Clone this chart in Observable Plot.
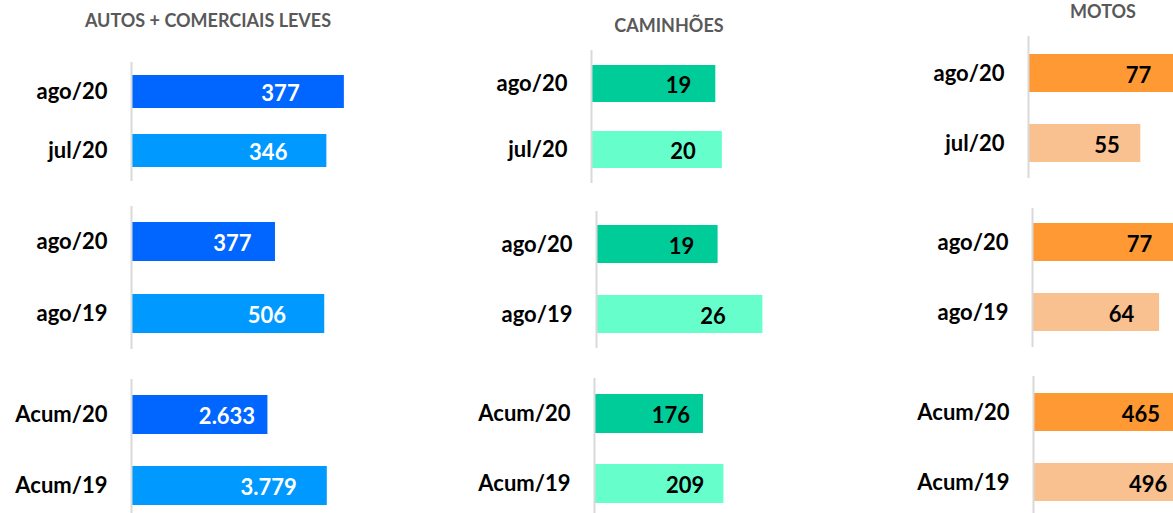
<!DOCTYPE html>
<html>
<head>
<meta charset="utf-8">
<script src="https://cdn.jsdelivr.net/npm/d3@7"></script>
<script src="https://cdn.jsdelivr.net/npm/@observablehq/plot@0.6"></script>
<style>
  html, body { margin: 0; padding: 0; background: #fff; overflow: hidden; }
  #chart { position: relative; width: 1173px; height: 513px; font-family: Lato, "Open Sans", sans-serif; }
  .panel { position: absolute; }
  .title { position: absolute; transform: translateX(-50%); white-space: nowrap;
           font: 700 18px/1 Lato, "Open Sans", sans-serif; color: #595959; }
</style>
</head>
<body>
<div id="chart"></div>
<script>
// ---- data ----
const titles = ["AUTOS + COMERCIAIS LEVES", "CAMINHÕES", "MOTOS"];
const categories = [["ago/20", "jul/20"], ["ago/20", "ago/19"], ["Acum/20", "Acum/19"]];
const autos = [[377, 346], [377, 506], [2633, 3779]];
const caminhoes = [[19, 20], [19, 26], [176, 209]];
const motos = [[77, 55], [77, 64], [465, 496]];
const series = [autos, caminhoes, motos];

// ---- styling / layout ----
const colors = [["#0066FF", "#0099FF"], ["#00CC99", "#66FFCC"], ["#FF9933", "#F9C090"]];
const valueFill = ["#ffffff", "#000000", "#000000"];
const colLeft = [0, 460, 900];
const colRight = [380, 820, 1173];
const titleX = [208, 669, 1103];
const titleTop = [11, 16, 2];
// per panel: axis x, axis top, axis bottom, first bar top, second bar top, bar height, x-domain max at right edge
const layout = [
  [[131, 62, 181, 75, 134, 33, 441], [131, 206, 349, 222, 294, 39, 652], [131, 379, 513, 395, 466, 38.5, 4806]],
  [[591, 50, 183, 65, 131, 36.5, 35], [596, 211, 348, 225, 295, 38, 35], [594, 378, 513, 394, 464, 39, 365]],
  [[1028, 36, 178, 53, 124, 39, 71], [1032, 208, 347, 223, 293, 38, 71], [1033, 376, 513, 392, 463, 39, 424]]
];

const fmt = d3.formatLocale({decimal: ",", thousands: ".", grouping: [3], currency: ["R$", ""]}).format(",d");
const chart = document.getElementById("chart");

titles.forEach((t, c) => {
  const div = document.createElement("div");
  div.className = "title";
  div.textContent = t;
  div.style.left = titleX[c] + "px";
  div.style.top = titleTop[c] + "px";
  chart.appendChild(div);
});

for (let c = 0; c < 3; c++) {
  for (let r = 0; r < 3; r++) {
    const [ax, top, bottom, b1, b2, h, xmax] = layout[c][r];
    const cats = categories[r];
    const data = cats.map((cat, i) => ({cat, value: series[c][r][i]}));
    const s = b2 - b1;
    const plot = Plot.plot({
      width: colRight[c] - colLeft[c],
      height: bottom - top,
      marginLeft: ax - colLeft[c],
      marginRight: 0,
      marginTop: 0,
      marginBottom: 0,
      style: {fontFamily: "Lato, 'Open Sans', sans-serif", background: "transparent", overflow: "visible"},
      x: {domain: [0, xmax], axis: null, clamp: true},
      y: {domain: cats, range: [b1 - top, b2 + h - top], paddingInner: 1 - h / s, paddingOuter: 0, axis: null},
      color: {domain: cats, range: colors[c]},
      marks: [
        Plot.barX(data, {x: "value", y: "cat", fill: "cat"}),
        Plot.ruleX([0], {stroke: "#d9d9d9", strokeWidth: 2}),
        Plot.text(data, {y: "cat", text: "cat", frameAnchor: "left", textAnchor: "end", dx: -24,
                         fontSize: 22, fontWeight: "bold", fill: "#000"}),
        Plot.text(data, {x: d => d.value * 0.7, y: "cat", text: d => fmt(d.value),
                         fontSize: 22, fontWeight: "bold", fill: valueFill[c], dy: 2})
      ]
    });
    plot.classList.add("panel");
    plot.style.left = colLeft[c] + "px";
    plot.style.top = top + "px";
    chart.appendChild(plot);
  }
}
</script>
</body>
</html>
